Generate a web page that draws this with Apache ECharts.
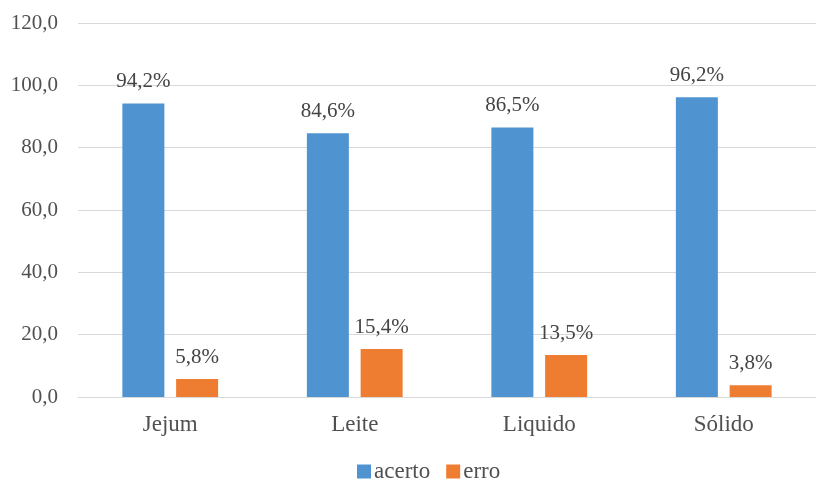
<!DOCTYPE html>
<html><head><meta charset="utf-8">
<script src="https://cdn.jsdelivr.net/npm/echarts@6/dist/echarts.min.js"></script>
<style>html,body{margin:0;padding:0;background:#fff}#c{width:816px;height:480px}</style>
</head><body><div id="c"></div>
<script>
const categories = ['Jejum', 'Leite', 'Liquido', 'Sólido'];
const acerto = [94.2, 84.6, 86.5, 96.2];
const erro = [5.8, 15.4, 13.5, 3.8];
const seriesNames = ['acerto', 'erro'];
const yTicks = { min: 0, max: 120, interval: 20 };

const font = 'Liberation Serif';
const fmt = v => v.toFixed(1).replace('.', ',');
const chart = echarts.init(document.getElementById('c'));
const labelCfg = {
  show: true, position: 'top', distance: 11,
  formatter: p => fmt(p.value) + '%',
  color: '#444', fontFamily: font, fontSize: 21
};
chart.setOption({
  animation: false,
  grid: { left: 78, width: 752, top: 23, bottom: 83, containLabel: false },
  legend: {
    top: 455, left: 352, itemWidth: 14, itemHeight: 14, itemGap: 16,
    icon: 'rect',
    textStyle: { fontFamily: font, fontSize: 23, color: '#505050', padding: [0, 0, 0, -2] },
    data: seriesNames
  },
  xAxis: {
    type: 'category', data: categories,
    axisLine: { lineStyle: { color: '#d9d9d9' } },
    axisTick: { show: false },
    axisLabel: { fontFamily: font, fontSize: 23, color: '#505050', margin: 16 }
  },
  yAxis: {
    type: 'value', min: yTicks.min, max: yTicks.max, interval: yTicks.interval,
    axisLabel: { formatter: v => fmt(v), fontFamily: font, fontSize: 21, color: '#505050', margin: 20 },
    splitLine: { lineStyle: { color: '#d9d9d9' } },
    axisLine: { show: false }, axisTick: { show: false }
  },
  series: [
    { name: seriesNames[0], type: 'bar', data: acerto, barWidth: 42, barGap: '28%',
      itemStyle: { color: '#4F94D0' }, label: labelCfg },
    { name: seriesNames[1], type: 'bar', data: erro, barWidth: 42,
      itemStyle: { color: '#EE7D31' }, label: labelCfg }
  ]
});
</script></body></html>
